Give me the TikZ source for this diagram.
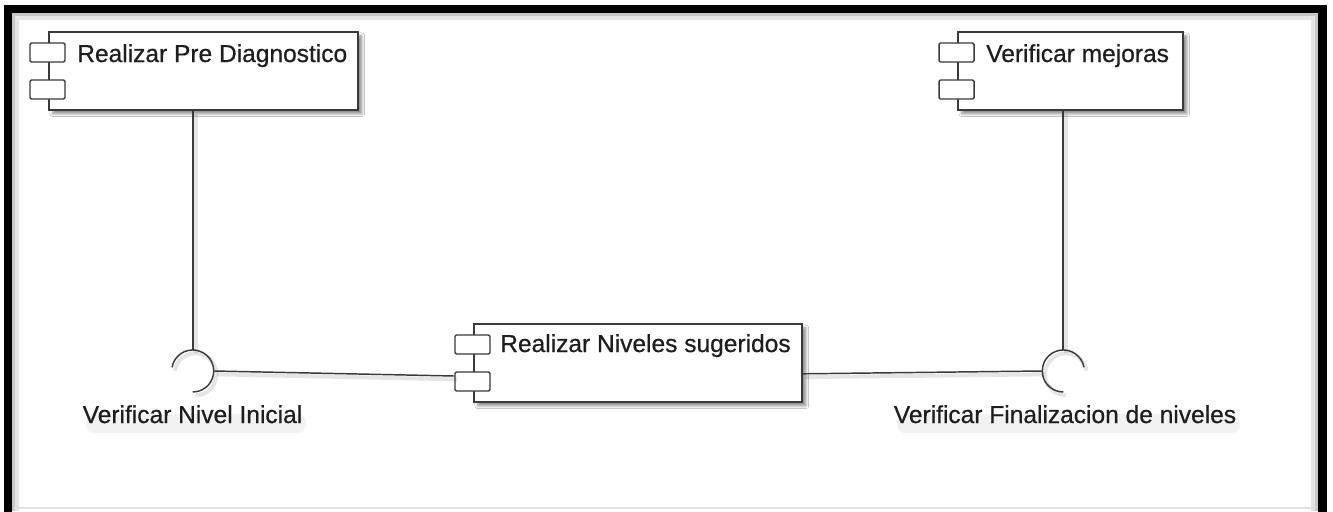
\documentclass[tikz,border=0pt]{standalone}
\usepackage{fontspec}
\setmainfont{Liberation Sans}
\newfontface\diagface{Liberation Sans}[FakeBold=0.6]
\usetikzlibrary{calc,shadows.blur}
\definecolor{inkline}{HTML}{3A3A3A}
\definecolor{inktext}{HTML}{1E1E1E}
\begin{document}
\begin{tikzpicture}[x=0.75pt,y=-0.75pt,
  compbox/.style={draw=inkline, fill=white, line width=1.2pt, rectangle, inner sep=0pt,
    anchor=north west, minimum height=58.5pt,
    blur shadow={shadow xshift=3pt, shadow yshift=-3pt, shadow blur steps=6, shadow opacity=45}},
  comptab/.style={draw=inkline, fill=white, line width=1.1pt, rounded corners=1pt,
    rectangle, inner sep=0pt, minimum width=26.25pt, minimum height=14.25pt},
  title/.style={font=\diagface\fontsize{18.4pt}{22pt}\selectfont, text=inktext, inner sep=0pt, anchor=base west},
  lbl/.style={font=\diagface\fontsize{18.4pt}{22pt}\selectfont, text=inktext, inner sep=0pt, anchor=base},
  conn/.style={draw=inkline, line width=1.1pt,
    preaction={draw=black, opacity=0.10, line width=3pt, transform canvas={shift={(2pt,-2.5pt)}}}},
  socket/.style={circle, minimum size=31.5pt, inner sep=0pt},
  frame/.style={line width=6.2pt, draw=black}]

\useasboundingbox (0,0) rectangle (1333,511);

% outer frame, open at the bottom, with a soft inner shade
\fill[white] (0,0) rectangle (1333,511);
\draw[gray!45, line width=3pt] (14,511) -- (14,15) -- (1316,15) -- (1316,511);
\draw[gray!20, line width=3pt] (17,511) -- (17,18) -- (1313,18) -- (1313,511);
\draw[gray!25, line width=0.8pt] (14,508) -- (1316,508);
\draw[frame] (8,515) -- (8,9) -- (1322.5,9) -- (1322.5,515);

% components
\node[compbox, minimum width=231.75pt] (pd) at (48,31) {};
\node[compbox, minimum width=168.75pt] (vm) at (957,31) {};
\node[compbox, minimum width=246pt]   (rn) at (473,323) {};

\foreach \c in {pd,vm,rn}{
  \node[comptab] (\c-tabA) at ($(\c.north west)+(-0.5,21.5)$) {};
  \node[comptab] (\c-tabB) at ($(\c.north west)+(-0.5,58.5)$) {};
}

\node[title] (pd-title) at (77,62)  {Realizar Pre Diagnostico};
\node[title] (vm-title) at (986,62) {Verificar mejoras};
\node[title] (rn-title) at (500,352) {Realizar Niveles sugeridos};

% required interfaces (sockets)
\node[socket] (sl) at (193,371) {};
\node[socket] (sr) at (1063,371) {};

% connectors
\draw[conn] (sl.north |- pd.south) -- (sl.north);
\draw[conn] (sr.north |- vm.south) -- (sr.north);
\draw[conn] (sl.east) -- ($(rn-tabB.west)+(0,-5.5)$);
\draw[conn] ($(rn.east)+(0,11)$) -- (sr.west);

\draw[conn] (sl.170) arc[start angle=170, end angle=-90, radius=15.75pt];
\draw[conn] (sr.10) arc[start angle=10, end angle=270, radius=15.75pt];

% soft haze under the interface labels
\fill[black, opacity=0.05, rounded corners=6pt] (86,414) rectangle (306,433);
\fill[black, opacity=0.05, rounded corners=6pt] (897,414) rectangle (1240,433);

% interface labels
\node[lbl] (sl-label) at (192.5,423) {Verificar Nivel Inicial};
\node[lbl] (sr-label) at (1065,423) {Verificar Finalizacion de niveles};

\end{tikzpicture}
\end{document}
